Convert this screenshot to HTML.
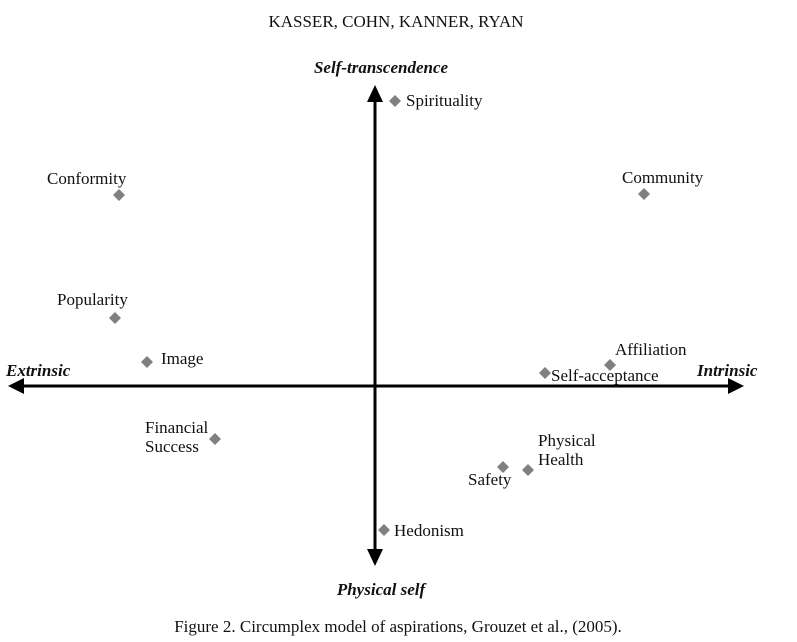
<!DOCTYPE html>
<html><head><meta charset="utf-8"><style>
html,body{margin:0;padding:0;background:#fff;}
svg{display:block;}
text{font-family:"Liberation Serif",serif;fill:#111;}
.l{font-size:17px;}
.a{font-size:17px;font-weight:bold;font-style:italic;}
</style></head><body>
<svg width="797" height="642" viewBox="0 0 797 642" xmlns="http://www.w3.org/2000/svg">
<text x="396" y="27" text-anchor="middle" style="font-size:17px">KASSER, COHN, KANNER, RYAN</text>
<line x1="20" y1="386" x2="730" y2="386" stroke="#000" stroke-width="3"/>
<polygon points="8,386 24,378 24,394" fill="#000"/>
<polygon points="744,386 728,378 728,394" fill="#000"/>
<line x1="375" y1="98" x2="375" y2="552" stroke="#000" stroke-width="3"/>
<polygon points="375,85 367,102 383,102" fill="#000"/>
<polygon points="375,566 367,549 383,549" fill="#000"/>
<text class="a" x="381" y="73" text-anchor="middle">Self-transcendence</text>
<text class="a" x="6" y="376">Extrinsic</text>
<text class="a" x="697" y="376">Intrinsic</text>
<text class="a" x="381" y="595" text-anchor="middle">Physical self</text>
<g fill="#808080">
<polygon points="395,95 401,101 395,107 389,101"/>
<polygon points="119,189 125,195 119,201 113,195"/>
<polygon points="644,188 650,194 644,200 638,194"/>
<polygon points="115,312 121,318 115,324 109,318"/>
<polygon points="147,356 153,362 147,368 141,362"/>
<polygon points="610,359 616,365 610,371 604,365"/>
<polygon points="545,367 551,373 545,379 539,373"/>
<polygon points="215,433 221,439 215,445 209,439"/>
<polygon points="503,461 509,467 503,473 497,467"/>
<polygon points="528,464 534,470 528,476 522,470"/>
<polygon points="384,524 390,530 384,536 378,530"/>
</g>
<text class="l" x="406" y="106">Spirituality</text>
<text class="l" x="47" y="184">Conformity</text>
<text class="l" x="622" y="183">Community</text>
<text class="l" x="57" y="305">Popularity</text>
<text class="l" x="161" y="364">Image</text>
<text class="l" x="615" y="355">Affiliation</text>
<text class="l" x="551" y="381">Self-acceptance</text>
<text class="l" x="145" y="433">Financial</text>
<text class="l" x="145" y="452">Success</text>
<text class="l" x="538" y="446">Physical</text>
<text class="l" x="538" y="465">Health</text>
<text class="l" x="468" y="485">Safety</text>
<text class="l" x="394" y="536">Hedonism</text>
<text x="398" y="632" text-anchor="middle" style="font-size:17px">Figure 2.   Circumplex model of aspirations, Grouzet et al., (2005).</text>
</svg>
</body></html>
